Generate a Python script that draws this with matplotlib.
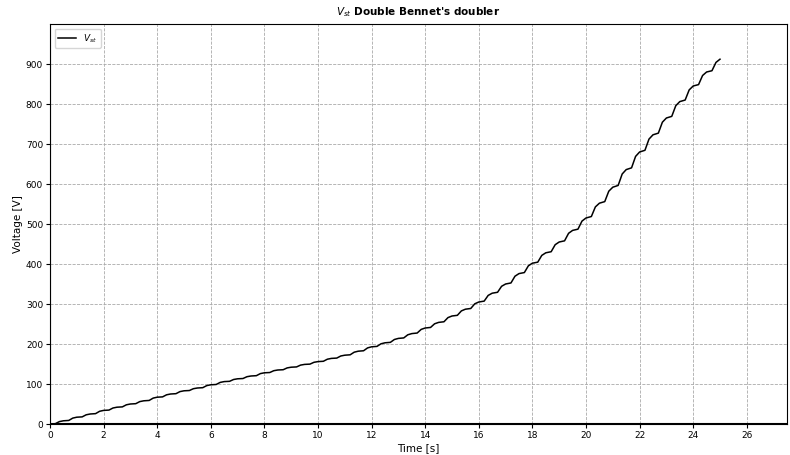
import numpy as np
import matplotlib
matplotlib.use('Agg')
import matplotlib.pyplot as plt

# Step levels of V_st, one per half second (t = 0 ... 25 s)
step_times = [0.0, 0.5, 1.0, 1.5, 2.0, 2.5, 3.0, 3.5, 4.0, 4.5,
              5.0, 5.5, 6.0, 6.5, 7.0, 7.5, 8.0, 8.5, 9.0, 9.5,
              10.0, 10.5, 11.0, 11.5, 12.0, 12.5, 13.0, 13.5, 14.0, 14.5,
              15.0, 15.5, 16.0, 16.5, 17.0, 17.5, 18.0, 18.5, 19.0, 19.5,
              20.0, 20.5, 21.0, 21.5, 22.0, 22.5, 23.0, 23.5, 24.0, 24.5, 25.0]
step_levels = [0, 8, 17, 25, 34, 42, 50, 58, 67, 75,
               83, 90, 98, 106, 113, 120, 128, 135, 142, 149,
               156, 164, 172, 182, 193, 203, 214, 226, 240, 254,
               270, 287, 305, 327, 350, 376, 402, 428, 455, 484,
               515, 552, 592, 636, 680, 723, 765, 806, 845, 880, 912]

y_ticks = [0, 100, 200, 300, 400, 500, 600, 700, 800, 900]
x_ticks = [0, 2, 4, 6, 8, 10, 12, 14, 16, 18, 20, 22, 24, 26]

# each period: gentle plateau, then a rise to the next level
t_pts, v_pts = [], []
for k in range(len(step_times) - 1):
    t0, t1 = step_times[k], step_times[k + 1]
    v0, v1 = step_levels[k], step_levels[k + 1]
    t_pts += [t0, t0 + 0.4 * (t1 - t0), t0 + 0.7 * (t1 - t0)]
    v_pts += [v0, v0 + 0.1 * (v1 - v0), v0 + 0.75 * (v1 - v0)]
t_pts.append(step_times[-1])
v_pts.append(step_levels[-1])

fig = plt.figure(figsize=(7.9, 4.55), dpi=100)
ax = fig.add_axes([50 / 790, 1 - 424 / 455, 737 / 790, 400 / 455])

ax.plot(t_pts, v_pts, color='black', linewidth=1.1, label='$V_{st}$')

ax.set_xlim(0, 27.5)
ax.set_ylim(0, 1000)
ax.set_xticks(x_ticks)
ax.set_yticks(y_ticks)
ax.tick_params(labelsize=6.5, length=3, pad=2)

ax.set_xlabel('Time [s]', fontsize=7.5, labelpad=2)
ax.set_ylabel('Voltage [V]', fontsize=7.5, labelpad=2)
ax.set_title("$V_{st}$ Double Bennet's doubler", fontsize=7.5, fontweight='bold')
ax.grid(True, color='darkgray', linestyle='--', linewidth=0.6)
ax.axhline(0, color='black', linewidth=1.5)
ax.axvline(0, color='dimgray', linewidth=1.5)
ax.legend(loc='upper left', fontsize=6.5)

fig.savefig('out.png', dpi=100)
